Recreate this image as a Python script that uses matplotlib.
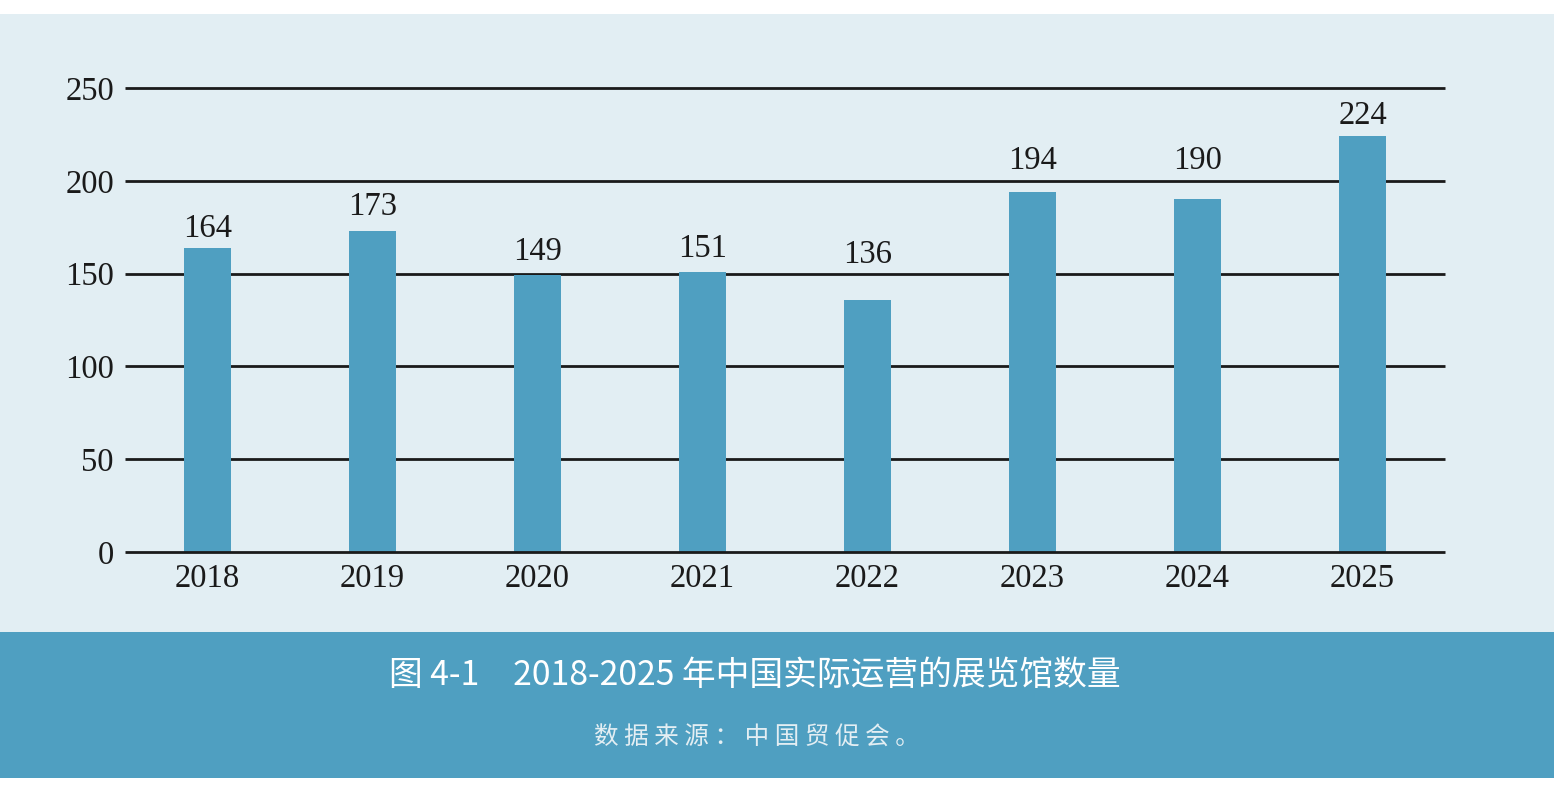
import matplotlib
matplotlib.use("Agg")
import matplotlib.pyplot as plt
from matplotlib.patches import Rectangle

years = ["2018", "2019", "2020", "2021", "2022", "2023", "2024", "2025"]
counts = [164, 173, 149, 151, 136, 194, 190, 224]
yticks = [0, 50, 100, 150, 200, 250]
title = "图 4-1\u30002018-2025 年中国实际运营的展览馆数量"
source = "数据来源：中国贸促会。"

# label gap above each bar (pixels), as placed in the original layout
label_gap = [19, 24, 24, 23, 45, 31, 39, 21]

BG = "#e2eef3"
TEAL = "#4f9fc1"
INK = "#1a1a1a"

fig = plt.figure(figsize=(15.54, 7.90), dpi=100)
fig.patch.set_facecolor("white")
fig.patches.append(Rectangle((0, 158 / 790), 1, 618 / 790, transform=fig.transFigure,
                             facecolor=BG, edgecolor="none", zorder=-10))
fig.patches.append(Rectangle((0, 12 / 790), 1, 146 / 790, transform=fig.transFigure,
                             facecolor=TEAL, edgecolor="none", zorder=-10))

ax = fig.add_axes([125 / 1554, 238 / 790, 1320 / 1554, 464 / 790])
ax.set_facecolor("none")
x = range(len(years))
bars = ax.bar(x, counts, width=0.285, color=TEAL, zorder=3)
for xi, v, g in zip(x, counts, label_gap):
    ax.annotate(str(v), (xi, v), xytext=(0, g), textcoords="offset pixels",
                ha="center", va="center", fontsize=23.5, family="Liberation Serif", color=INK)

ax.set_xlim(-0.5, len(years) - 0.5)
ax.set_ylim(0, 250)
ax.set_yticks(yticks)
ax.set_xticks(list(x))
ax.set_xticklabels(years)
for s in ax.spines.values():
    s.set_visible(False)
for y in yticks:
    ax.axhline(y, color=INK, linewidth=2, zorder=2 if y else 4, clip_on=False,
               solid_capstyle="butt")
ax.tick_params(length=0, labelsize=23.5, colors=INK, pad=8)
for lab in ax.get_xticklabels() + ax.get_yticklabels():
    lab.set_family("Liberation Serif")

fig.text(755 / 1554, 1 - 676 / 790, title, ha="center", va="center", color="white",
         fontsize=24.3, family=["Noto Sans CJK SC", "DejaVu Sans"])
fig.text(757 / 1554, 1 - 738 / 790, " ".join(source), ha="center", va="center", color="#e3eef3",
         fontsize=17.7, fontweight="light", family=["Noto Sans CJK SC", "DejaVu Sans"])

fig.savefig("out.png", dpi=100, facecolor=fig.get_facecolor())
